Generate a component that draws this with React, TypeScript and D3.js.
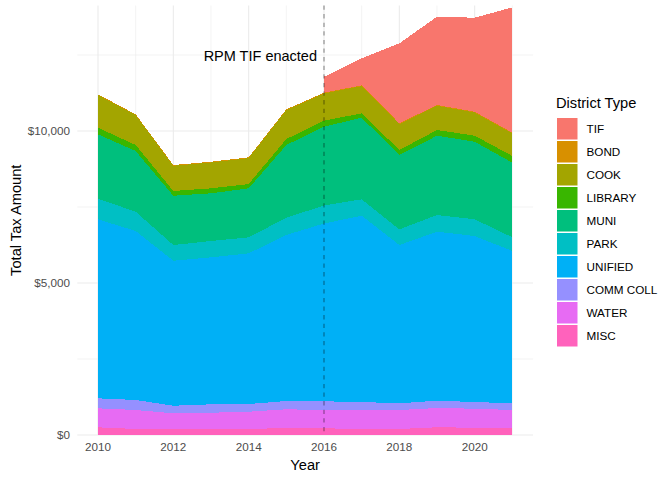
import React from "react";
import * as d3 from "d3";

const years = [2010, 2011, 2012, 2013, 2014, 2015, 2016, 2017, 2018, 2019, 2020, 2021];
const misc = [253, 197, 197, 197, 207, 220, 220, 197, 197, 253, 240, 220];
const water = [625, 625, 516, 536, 559, 625, 602, 625, 625, 635, 625, 602];
const commColl = [329, 329, 250, 276, 253, 273, 286, 263, 220, 240, 220, 220];
const unified = [5888, 5559, 4770, 4836, 4957, 5461, 5849, 6128, 5207, 5559, 5461, 5010];
const park = [678, 635, 516, 536, 526, 569, 592, 539, 516, 549, 549, 451];
const muni = [2118, 1997, 1622, 1569, 1612, 2391, 2592, 2684, 2444, 2609, 2553, 2454];
const library = [217, 197, 155, 164, 141, 197, 197, 145, 164, 188, 197, 220];
const cook = [1074, 985, 830, 850, 853, 952, 896, 896, 853, 797, 764, 741];
const bond = [25, 25, 25, 25, 25, 25, 25, 25, 25, 25, 25, 25];
const tif: (number | null)[] = [null, null, null, null, null, null, 526, 888, 2632, 2905, 3092, 4125];

const districtTypes = ["TIF", "BOND", "COOK", "LIBRARY", "MUNI", "PARK", "UNIFIED", "COMM COLL", "WATER", "MISC"];
const colors = ["#F8766D", "#D89000", "#A3A500", "#39B600", "#00BF7D", "#00BFC4", "#00B0F6", "#9590FF", "#E76BF3", "#FF62BC"];
const yTicks = [0, 5000, 10000];
const yMinor = [2500, 7500, 12500];
const xTicks = [2010, 2012, 2014, 2016, 2018, 2020];
const xMinor = [2011, 2013, 2015, 2017, 2019, 2021];
const tifYear = 2016;
const annotation = "RPM TIF enacted";

const seriesMap: Record<string, (number | null)[]> = {
  TIF: tif, BOND: bond, COOK: cook, LIBRARY: library, MUNI: muni, PARK: park,
  UNIFIED: unified, "COMM COLL": commColl, WATER: water, MISC: misc,
};

const W = 672, H = 480;
const panel = { left: 77.28, right: 533.05, top: 5.5, bottom: 435 };
const font = "'Liberation Sans', Arial, Helvetica, sans-serif";

export default function App() {
  const x = d3.scaleLinear().domain([2009.45, 2021.55]).range([panel.left, panel.right]);
  const y = d3.scaleLinear().domain([0, 10000]).range([435, 131]);

  const rows = years.map((yr, i) => {
    const r: any = { year: yr };
    districtTypes.forEach((k) => { r[k] = seriesMap[k][i] ?? 0; });
    return r;
  });
  const stackKeys = [...districtTypes].reverse();
  const stacked = d3.stack<any>().keys(stackKeys)(rows);

  const areas = stacked.map((s) => {
    const key = s.key;
    const area = d3.area<any>()
      .defined((d: any, i: number) => seriesMap[key][i] !== null)
      .x((d: any) => x(d.data.year))
      .y0((d: any) => y(d[0]))
      .y1((d: any) => y(d[1]));
    return { key, d: area(s as any) || "", color: colors[districtTypes.indexOf(key)] };
  });

  const grid = "#EBEBEB";
  return (
    <svg width={W} height={H} style={{ position: "absolute", left: 0, top: 0, background: "#fff" }} fontFamily={font}>
      <rect x={0} y={0} width={W} height={H} fill="#fff" />
      {yMinor.map((v) => (
        <line key={"ym" + v} x1={panel.left} x2={panel.right} y1={y(v)} y2={y(v)} stroke={grid} strokeWidth={0.53} />
      ))}
      {xMinor.map((v) => (
        <line key={"xm" + v} x1={x(v)} x2={x(v)} y1={panel.top} y2={panel.bottom} stroke={grid} strokeWidth={0.53} />
      ))}
      {yTicks.map((v) => (
        <line key={"y" + v} x1={panel.left} x2={panel.right} y1={y(v)} y2={y(v)} stroke={grid} strokeWidth={1.07} />
      ))}
      {xTicks.map((v) => (
        <line key={"x" + v} x1={x(v)} x2={x(v)} y1={panel.top} y2={panel.bottom} stroke={grid} strokeWidth={1.07} />
      ))}
      {areas.map((a) => (
        <path key={a.key} d={a.d} fill={a.color} shapeRendering="crispEdges" />
      ))}
      <line x1={x(tifYear)} x2={x(tifYear)} y1={panel.top} y2={panel.bottom} stroke="#000" strokeOpacity={0.45}
        strokeWidth={1.07} strokeDasharray="4.3,4.3" />
      <text x={x(tifYear) - 7} y={61} textAnchor="end" fontSize={14.5} fill="#000">{annotation}</text>
      {yTicks.map((v) => (
        <text key={"yl" + v} x={70} y={y(v)} dy="0.35em" textAnchor="end" fontSize={11.7} fill="#4D4D4D">
          {d3.format("$,")(v)}
        </text>
      ))}
      {xTicks.map((v) => (
        <text key={"xl" + v} x={x(v)} y={451} textAnchor="middle" fontSize={11.7} fill="#4D4D4D">{v}</text>
      ))}
      <text x={(panel.left + panel.right) / 2} y={469.5} textAnchor="middle" fontSize={14.67} fill="#000">Year</text>
      <text transform={`translate(21,${(panel.top + panel.bottom) / 2}) rotate(-90)`} textAnchor="middle" fontSize={14.67} fill="#000">
        Total Tax Amount
      </text>
      <text x={556} y={108} fontSize={14.67} fill="#000">District Type</text>
      {districtTypes.map((k, i) => (
        <g key={"lg" + k} transform={`translate(557,${118 + i * 23})`}>
          <rect x={0} y={0} width={20.5} height={21.5} fill={colors[i]} />
          <text x={29.5} y={10.75} dy="0.35em" fontSize={11.7} fill="#000">{k}</text>
        </g>
      ))}
    </svg>
  );
}
